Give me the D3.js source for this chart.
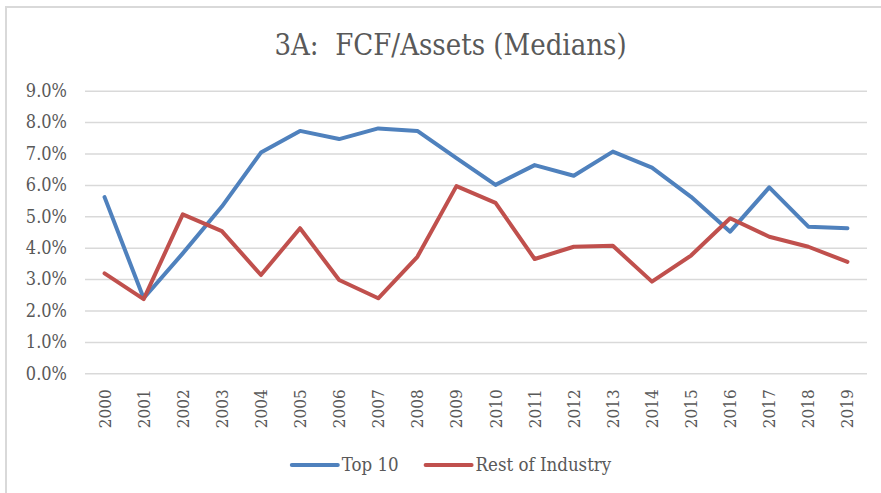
<!DOCTYPE html>
<html>
<head>
<meta charset="utf-8">
<script src="https://cdn.jsdelivr.net/npm/d3@7"></script>
<style>
  body { margin: 0; background: #fff; }
  text { font-family: "DejaVu Serif Condensed", "DejaVu Serif", serif; font-stretch: condensed; fill: #595959; }
</style>
</head>
<body>
<svg width="881" height="493"></svg>
<script>
// data (percent)
var years = ["2000","2001","2002","2003","2004","2005","2006","2007","2008","2009",
             "2010","2011","2012","2013","2014","2015","2016","2017","2018","2019"];
var top10 = [5.61, 2.39, 3.82, 5.31, 7.03, 7.72, 7.46, 7.80, 7.72, 6.85,
             6.00, 6.63, 6.29, 7.06, 6.55, 5.62, 4.51, 5.92, 4.67, 4.62];
var restOfIndustry = [3.18, 2.36, 5.06, 4.53, 3.13, 4.62, 2.97, 2.39, 3.71, 5.96,
                      5.43, 3.64, 4.03, 4.06, 2.92, 3.75, 4.94, 4.35, 4.03, 3.55];
var yTicks = [0, 1, 2, 3, 4, 5, 6, 7, 8, 9];
var seriesNames = ["Top 10", "Rest of Industry"];
var seriesColors = ["#4f81bd", "#c0504d"];

var svg = d3.select("svg"),
    margin = {top: 90.7, right: 14, bottom: 119.7, left: 85},
    width = +svg.attr("width") - margin.left - margin.right,
    height = +svg.attr("height") - margin.top - margin.bottom;

// chart frame (cut off at right/bottom in the original)
svg.append("path")
    .attr("d", "M6,500 V7 H890")
    .attr("fill", "none")
    .attr("stroke", "#d9d9d9")
    .attr("stroke-width", 2);

svg.append("text")
    .attr("x", 450.5)
    .attr("y", 55)
    .attr("text-anchor", "middle")
    .style("font-size", "29px")
    .attr("xml:space", "preserve")
    .text("3A:  FCF/Assets (Medians)");

var g = svg.append("g")
    .attr("transform", "translate(" + margin.left + "," + margin.top + ")");

var x = d3.scaleBand().domain(years).range([0, width]);
var y = d3.scaleLinear().domain([0, 9]).range([height, 0]);

// gridlines + y labels
var yAxis = d3.axisLeft(y)
    .tickValues(yTicks)
    .tickSize(-width)
    .tickPadding(18)
    .tickFormat(function (d) { return d.toFixed(1) + "%"; });

g.append("g")
    .attr("class", "y-axis")
    .call(yAxis)
    .call(function (s) {
        s.select(".domain").remove();
        s.selectAll("line").attr("stroke", "#d9d9d9").attr("stroke-width", 1.5);
        s.selectAll("text").style("font-size", "18px").attr("fill", "#595959");
    });

// x labels (rotated)
var xAxis = d3.axisBottom(x).tickSize(0).tickPadding(0);
g.append("g")
    .attr("class", "x-axis")
    .attr("transform", "translate(0," + height + ")")
    .call(xAxis)
    .call(function (s) {
        s.select(".domain").remove();
        s.selectAll("text")
            .attr("fill", "#595959")
            .style("font-size", "17px")
            .attr("text-anchor", "end")
            .attr("dy", "0.35em")
            .attr("transform", "translate(0,16) rotate(-90)");
    });

var line = d3.line()
    .x(function (d, i) { return x(years[i]) + x.bandwidth() / 2; })
    .y(function (d) { return y(d); });

[top10, restOfIndustry].forEach(function (vals, k) {
    g.append("path")
        .datum(vals)
        .attr("fill", "none")
        .attr("stroke", seriesColors[k])
        .attr("stroke-width", 4)
        .attr("stroke-linejoin", "round")
        .attr("stroke-linecap", "round")
        .attr("d", line);
});

// legend
var legend = svg.append("g");
var lx = 0;
var items = legend.selectAll("g").data(seriesNames).enter().append("g");
items.append("line")
    .attr("x1", 0).attr("x2", 46)
    .attr("stroke", function (d, i) { return seriesColors[i]; })
    .attr("stroke-width", 4)
    .attr("stroke-linecap", "round");
items.append("text")
    .attr("x", 50)
    .attr("dy", "0.35em")
    .style("font-size", "18.5px")
    .text(function (d) { return d; });
items.each(function () {
    var w = d3.select(this).select("text").node().getComputedTextLength() + 50;
    d3.select(this).attr("transform", "translate(" + lx + ",0)");
    lx += w + 27;
});
var total = lx - 27;
legend.attr("transform", "translate(" + (451.5 - total / 2) + ",465)");
</script>
</body>
</html>
